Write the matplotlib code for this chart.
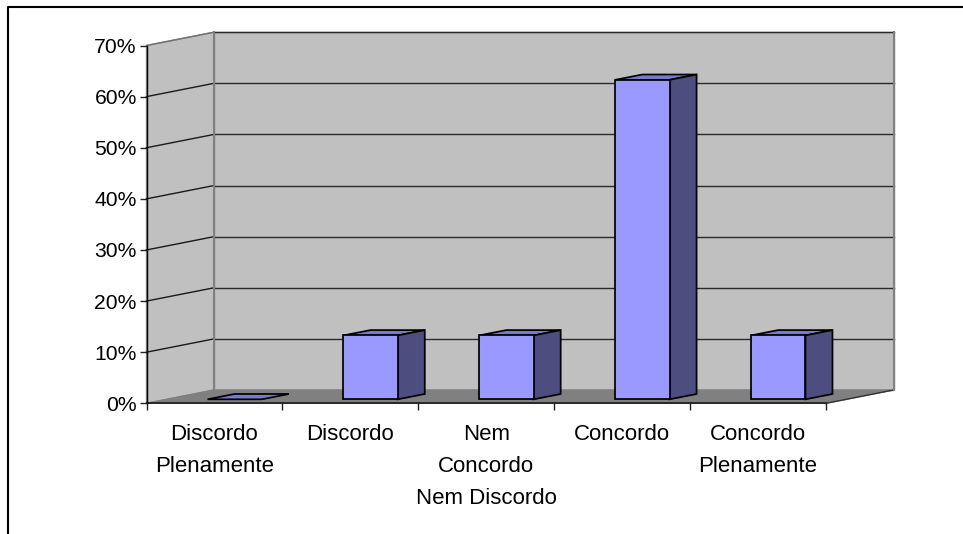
import matplotlib
matplotlib.use("Agg")
import matplotlib.pyplot as plt
from matplotlib.lines import Line2D
from matplotlib.patches import Polygon

plt.rcParams["font.family"] = ["Liberation Sans", "DejaVu Sans"]

categories = ["Discordo\nPlenamente", "Discordo", "Nem\nConcordo\nNem Discordo",
              "Concordo", "Concordo\nPlenamente"]
values = [0, 12.5, 12.5, 62.5, 12.5]
y_ticks = [0, 10, 20, 30, 40, 50, 60, 70]
y_labels = ["0%", "10%", "20%", "30%", "40%", "50%", "60%", "70%"]

W, H = 963, 534
# front plane of the chart box, in pixels
LEFT, RIGHT, TOP, BOTTOM = 146.5, 826.0, 45.5, 403.3
# shift of the back wall in data units
DEPTH_X = 67.5 / 135.9
DEPTH_Y = 13.3 / 51.1

WALL = "#C0C0C0"
FLOOR = "#808080"
FRONT = "#9999FF"
TOP_FACE = "#7A7ACC"
SIDE = "#4D4D80"


def proj(x, d, v):
    """Data position x, depth d (0 front, 1 back), value v -> sheared 2D point."""
    return (x + d * DEPTH_X, v + d * DEPTH_Y * 10)


def poly(ax, pts, face, edge="black", lw=1.25, z=3):
    ax.add_patch(Polygon(pts, closed=True, facecolor=face, edgecolor=edge,
                         linewidth=lw, joinstyle="miter", clip_on=False, zorder=z))


fig = plt.figure(figsize=(W / 100, H / 100), dpi=100)
ax = fig.add_axes([LEFT / W, 1 - BOTTOM / H, (RIGHT - LEFT) / W, (BOTTOM - TOP) / H])
ax.set_xlim(0, 5)
ax.set_ylim(0, 70)
ax.patch.set_visible(False)
for side in ["top", "right"]:
    ax.spines[side].set_visible(False)
ax.spines["left"].set_linewidth(1.0)
ax.spines["bottom"].set_linewidth(1.3)
ax.spines["bottom"].set_color("#222222")
ax.spines["left"].set_zorder(6)
ax.spines["bottom"].set_zorder(2)

# walls and floor
poly(ax, [proj(0, 0, 0), proj(0, 1, 0), proj(0, 1, 70), proj(0, 0, 70)], WALL, "#909090", 1.0, 1)
poly(ax, [proj(0, 1, 0), proj(5, 1, 0), proj(5, 1, 70), proj(0, 1, 70)], WALL, "#909090", 1.0, 1)
poly(ax, [proj(0, 0, 0), proj(5, 0, 0), proj(5, 1, 0), proj(0, 1, 0)], FLOOR, "#808080", 1.0, 1)

# gridlines, along the side wall and across the back
for v in y_ticks[1:]:
    side_col = "#707070" if v == 70 else "#1a1a1a"
    ax.plot(*zip(proj(0, 0, v), proj(0, 1, v)), color=side_col, lw=1.0, clip_on=False, zorder=2)
    ax.plot(*zip(proj(0, 1, v), proj(5, 1, v)), color="#2a2a2a", lw=1.0, clip_on=False, zorder=2)
ax.plot(*zip(proj(5, 0, 0), proj(5, 1, 0)), color="#333333", lw=1.0, clip_on=False, zorder=2)

# wall corners sit on top of the gridlines
ax.plot(*zip(proj(0, 1, 0), proj(0, 1, 70)), color="#808080", lw=1.5, clip_on=False, zorder=2.5)
ax.plot(*zip(proj(5, 1, 0), proj(5, 1, 70)), color="#808080", lw=1.5, clip_on=False, zorder=2.5)

# bars
BAR_W = 0.4
D0, D1 = 0.3, 0.7
for i, v in enumerate(values):
    x0 = i + 0.5 - BAR_W / 2
    x1 = x0 + BAR_W
    poly(ax, [proj(x0, D0, v), proj(x1, D0, v), proj(x1, D1, v), proj(x0, D1, v)], TOP_FACE)
    if v > 0:
        poly(ax, [proj(x1, D0, 0), proj(x1, D1, 0), proj(x1, D1, v), proj(x1, D0, v)], SIDE)
        poly(ax, [proj(x0, D0, 0), proj(x1, D0, 0), proj(x1, D0, v), proj(x0, D0, v)], FRONT)

ax.set_yticks(y_ticks)
ax.set_yticklabels(y_labels, fontsize=15.2)
ax.set_xticks(range(6))
ax.set_xticklabels([])
ax.set_xticks([i + 0.5 for i in range(5)], minor=True)
ax.set_xticklabels(categories, minor=True, fontsize=16, linespacing=1.68)
ax.tick_params(axis="both", which="major", length=5, width=1.0, color="#222222")
ax.tick_params(axis="x", which="minor", length=0, pad=15)
ax.tick_params(axis="y", pad=2, labelcolor="black")

# outer frame of the source picture, open at the right and bottom
fig.add_artist(Line2D([7.7 / W, 7.7 / W, 1], [0, 1 - 6.5 / H, 1 - 6.5 / H], color="black", lw=1.5))

fig.savefig("out.png", dpi=100)
